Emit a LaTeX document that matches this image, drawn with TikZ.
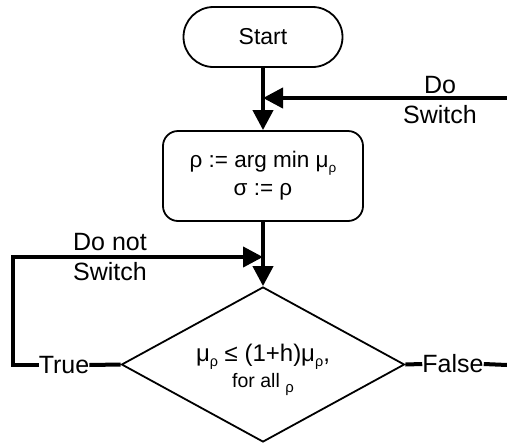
\documentclass[tikz,border=0pt]{standalone}
\usepackage{fontspec}
\setmainfont{Liberation Sans}
\usetikzlibrary{arrows.meta,shapes.geometric}
\newcommand{\lowsub}[1]{\raisebox{-0.22em}{\scalebox{0.6}{#1}}}
\begin{document}
\begin{tikzpicture}[x=1pt,y=-1pt,
  shapeline/.style={draw=black,line width=1.8pt},
  conn/.style={draw=black,line width=4pt},
  arr/.style={conn,-{Triangle[length=20pt,width=20pt]}},
  lbl/.style={font=\fontsize{25}{30}\selectfont,inner sep=0pt,align=left},
  boxtext/.style={font=\fontsize{22.5}{28}\selectfont,align=center}]
\useasboundingbox (0,0) rectangle (507,445);

% terminal, process box and decision
\node[shapeline,rounded corners=30pt,minimum width=159pt,minimum height=60pt,
  font=\fontsize{23}{27}\selectfont] (start) at (263,37) {Start};
\node[shapeline,rounded corners=15pt,minimum width=200pt,minimum height=90pt,
  boxtext] (box) at (263,176) {ρ := arg min μ\lowsub{ρ}\\σ := ρ};
\node[shapeline,diamond,minimum width=283pt,minimum height=155pt,inner sep=0pt]
  (dec) at (263,364.5) {};
\node[font=\fontsize{24}{28}\selectfont,inner sep=0pt] (cond) at (263,357)
  {μ\lowsub{ρ} ≤ (1+h)μ\lowsub{ρ},};
\node[font=\fontsize{19.5}{23}\selectfont,inner sep=0pt] (forall) at (263,384)
  {for all \raisebox{-5pt}{\fontsize{15}{18}\selectfont ρ}};

% branch labels
\node[lbl] (truelbl) at (64,365) {True};
\node[lbl] (falselbl) at (453,364) {False};
\node[lbl] (dnsw) at (110,257) {Do not\\Switch};
\node[lbl,align=center] (dsw) at (440,100) {Do\\Switch};

% connector end points
\coordinate (m1) at (263,98);
\coordinate (dsin) at (507,98);
\coordinate (m2) at (263,257);
\coordinate (lc) at (13,365);
\coordinate (fout) at (507,365);

% connectors
\draw[arr] (start.south) -- (box.north);
\draw[arr] (dsin) -- (m1);
\draw[arr] (box.south) -- (dec.north);
\draw[conn] (dec.west) -- (truelbl.east);
\draw[arr] (truelbl.west) -- (lc) |- (m2);
\draw[conn] (dec.east) -- (falselbl.west);
\draw[conn] (falselbl.east) -- (fout);
\end{tikzpicture}
\end{document}
